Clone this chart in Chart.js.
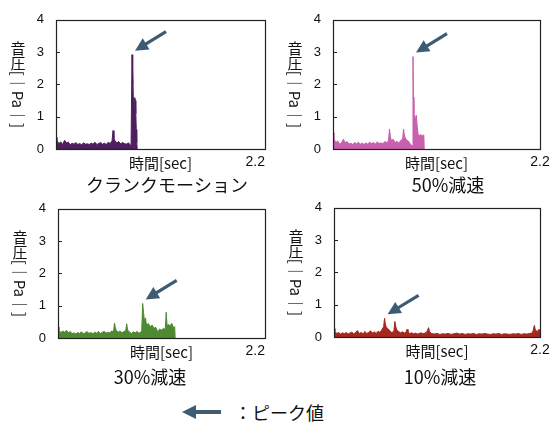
<!DOCTYPE html>
<html>
<head>
<meta charset="utf-8">
<script src="https://cdn.jsdelivr.net/npm/chart.js@4.4.1/dist/chart.umd.min.js"></script>
<style>
  body { margin: 0; background: #fff; }
  #wrap { position: relative; width: 560px; height: 423px; overflow: hidden; background: #fff; }
  #wrap canvas { position: absolute; }
  #key { position: absolute; left: 182px; top: 401px; height: 22px; display: flex; align-items: center;
         font-family: "Noto Sans CJK JP", sans-serif; font-size: 18px; color: #111; }
  #key svg { margin-right: 12px; }
</style>
</head>
<body>
<div id="wrap">
  <canvas id="c1" width="280" height="200"></canvas>
  <canvas id="c2" width="280" height="200"></canvas>
  <canvas id="c3" width="280" height="200"></canvas>
  <canvas id="c4" width="280" height="200"></canvas>
  <div id="key">
    <svg width="40" height="16" viewBox="0 0 40 16">
      <polygon points="0,8 14,1 14,15" fill="#3e5b74"/>
      <rect x="13" y="6" width="26" height="4" fill="#3e5b74"/>
    </svg>
    <span id="keyText"></span>
  </div>
</div>
<script>
// --- data (time [sec], sound pressure [Pa]) ---
var panelTitles = ["クランクモーション", "50%減速", "30%減速", "10%減速"];
var keyLabel = "：ピーク値";
var xTickValues = [0, 1.1, 2.2];
var xTickLabels = ["", "時間[sec]", "2.2"];
var yTitleUpright = ["音", "圧"];
var yTitleRotated = "[｜Pa｜]";

var crankTime = [0, 0.01, 0.03, 0.05, 0.07, 0.09, 0.11, 0.13, 0.15, 0.17, 0.19, 0.21, 0.23, 0.25, 0.27, 0.29,
  0.31, 0.33, 0.35, 0.37, 0.39, 0.41, 0.43, 0.45, 0.47, 0.49, 0.51, 0.53, 0.55, 0.57, 0.59, 0.60, 0.61, 0.62,
  0.64, 0.66, 0.68, 0.70, 0.72, 0.74, 0.76, 0.78, 0.79, 0.80, 0.805, 0.81, 0.815, 0.82, 0.825, 0.83, 0.835,
  0.84, 0.845, 0.85, 0.855];
var crankPa = [0.36, 0.26, 0.17, 0.22, 0.14, 0.27, 0.19, 0.21, 0.13, 0.18, 0.15, 0.2, 0.14, 0.17, 0.13, 0.19,
  0.15, 0.16, 0.14, 0.18, 0.15, 0.21, 0.14, 0.17, 0.2, 0.15, 0.18, 0.14, 0.21, 0.17, 0.25, 0.57, 0.33, 0.26,
  0.19, 0.23, 0.16, 0.2, 0.17, 0.15, 0.19, 0.14, 0.05, 2.92, 2.0, 2.5, 1.4, 1.6, 1.2, 1.58, 1.5,
  1.1, 0.6, 0.2, 0];

var dec50Time = [0, 0.01, 0.03, 0.05, 0.07, 0.09, 0.11, 0.13, 0.15, 0.17, 0.19, 0.21, 0.23, 0.25, 0.27, 0.29,
  0.31, 0.33, 0.35, 0.37, 0.39, 0.41, 0.43, 0.45, 0.47, 0.49, 0.51, 0.53, 0.55, 0.57, 0.59, 0.60, 0.61, 0.62,
  0.64, 0.66, 0.68, 0.70, 0.72, 0.74, 0.75, 0.76, 0.78, 0.80, 0.82, 0.84, 0.85, 0.855, 0.86, 0.865,
  0.875, 0.885, 0.895, 0.905, 0.92, 0.935, 0.95, 0.965, 0.97];
var dec50Pa = [0.5, 0.32, 0.2, 0.25, 0.15, 0.19, 0.3, 0.2, 0.23, 0.15, 0.18, 0.14, 0.2, 0.16, 0.21, 0.15,
  0.18, 0.14, 0.19, 0.15, 0.21, 0.17, 0.2, 0.15, 0.22, 0.17, 0.19, 0.16, 0.23, 0.2, 0.25, 0.62, 0.38, 0.26,
  0.3, 0.2, 0.24, 0.18, 0.26, 0.32, 0.62, 0.4, 0.28, 0.25, 0.16, 0.1, 2.86, 1.6, 1.1, 1.05,
  0.9, 1.05, 0.7, 0.45, 0.42, 0.45, 0.4, 0.44, 0];

var dec30Time = [0, 0.01, 0.03, 0.05, 0.07, 0.09, 0.11, 0.13, 0.15, 0.17, 0.19, 0.21, 0.23, 0.25, 0.27, 0.29,
  0.31, 0.33, 0.35, 0.37, 0.39, 0.41, 0.43, 0.45, 0.47, 0.49, 0.51, 0.53, 0.55, 0.57, 0.59, 0.60, 0.61, 0.62,
  0.64, 0.66, 0.68, 0.70, 0.72, 0.73, 0.74, 0.76, 0.78, 0.80, 0.82, 0.84, 0.86, 0.88, 0.89, 0.90, 0.91, 0.92,
  0.93, 0.94, 0.96, 0.98, 1.00, 1.02, 1.04, 1.06, 1.08, 1.10, 1.12, 1.14, 1.15, 1.16, 1.17, 1.19, 1.21, 1.23,
  1.24, 1.245];
var dec30Pa = [0.34, 0.25, 0.16, 0.22, 0.18, 0.24, 0.16, 0.2, 0.13, 0.16, 0.12, 0.17, 0.14, 0.19, 0.13, 0.16,
  0.2, 0.14, 0.17, 0.13, 0.18, 0.15, 0.2, 0.14, 0.17, 0.21, 0.15, 0.18, 0.16, 0.22, 0.19, 0.46, 0.32, 0.23,
  0.18, 0.22, 0.16, 0.2, 0.23, 0.44, 0.25, 0.18, 0.14, 0.19, 0.16, 0.2, 0.15, 0.18, 0.24, 1.07, 0.75, 0.5,
  0.62, 0.4, 0.45, 0.35, 0.4, 0.3, 0.33, 0.18, 0.28, 0.24, 0.3, 0.26, 0.8, 0.35, 0.42, 0.38, 0.45, 0.3,
  0.35, 0];

var dec10Time = [0, 0.01, 0.03, 0.05, 0.07, 0.09, 0.11, 0.13, 0.15, 0.17, 0.19, 0.21, 0.23, 0.25, 0.27, 0.29,
  0.31, 0.33, 0.35, 0.37, 0.39, 0.41, 0.43, 0.45, 0.47, 0.49, 0.51, 0.53, 0.54, 0.55, 0.56, 0.58, 0.60, 0.62,
  0.64, 0.65, 0.66, 0.67, 0.69, 0.71, 0.73, 0.75, 0.77, 0.78, 0.79, 0.81, 0.83, 0.85, 0.87, 0.89, 0.91, 0.93,
  0.95, 0.97, 0.99, 1.01, 1.02, 1.04, 1.07, 1.10, 1.13, 1.16, 1.19, 1.22, 1.25, 1.28, 1.31, 1.34, 1.37, 1.40,
  1.43, 1.46, 1.49, 1.52, 1.55, 1.58, 1.61, 1.64, 1.67, 1.70, 1.73, 1.76, 1.79, 1.82, 1.85, 1.88, 1.91, 1.94,
  1.97, 2.00, 2.03, 2.06, 2.09, 2.12, 2.14, 2.15, 2.17, 2.19, 2.2];
var dec10Pa = [0.26, 0.17, 0.11, 0.14, 0.09, 0.13, 0.1, 0.14, 0.09, 0.12, 0.15, 0.1, 0.13, 0.2, 0.11, 0.14,
  0.1, 0.17, 0.11, 0.14, 0.19, 0.12, 0.16, 0.11, 0.18, 0.14, 0.22, 0.32, 0.58, 0.37, 0.3, 0.25, 0.18, 0.13,
  0.2, 0.48, 0.32, 0.22, 0.17, 0.13, 0.16, 0.12, 0.15, 0.24, 0.15, 0.11, 0.13, 0.1, 0.12, 0.09, 0.11, 0.13,
  0.1, 0.12, 0.15, 0.29, 0.17, 0.11, 0.09, 0.11, 0.08, 0.1, 0.09, 0.11, 0.08, 0.1, 0.12, 0.09, 0.11, 0.08,
  0.1, 0.09, 0.11, 0.08, 0.1, 0.09, 0.11, 0.09, 0.08, 0.1, 0.09, 0.11, 0.08, 0.1, 0.09, 0.08, 0.1, 0.09,
  0.11, 0.08, 0.1, 0.09, 0.11, 0.13, 0.36, 0.22, 0.17, 0.24, 0.2];

// --- layout / style of each panel (canvas box, plot padding, title centre) ---
var panels = [
  { id: "c1", left: 0,   top: 0,   pad: { left: 12, top: 15, right: 15, bottom: 21 }, titleX: 167, titleY: 185,   align: "inner",  color: "#4d1f5e", time: crankTime, pa: crankPa },
  { id: "c2", left: 280, top: 0,   pad: { left: 9,  top: 14, right: 20, bottom: 21 }, titleX: 168, titleY: 185,   align: "center", color: "#c960ad", time: dec50Time, pa: dec50Pa },
  { id: "c3", left: 0,   top: 189, pad: { left: 14, top: 15, right: 15, bottom: 21 }, titleX: 150, titleY: 188,   align: "inner",  color: "#4e8a31", time: dec30Time, pa: dec30Pa },
  { id: "c4", left: 280, top: 188, pad: { left: 10, top: 15, right: 20, bottom: 21 }, titleX: 160, titleY: 189.5, align: "center", color: "#a5291f", time: dec10Time, pa: dec10Pa }
];

var ARROW = "#3e5b74";
var CJK = '"Noto Sans CJK JP", sans-serif';
var LATIN = '"Liberation Sans", Arial, sans-serif';

document.getElementById("keyText").textContent = keyLabel;

function drawArrow(ctx, tipX, tipY, tailX, tailY) {
  var ang = Math.atan2(tailY - tipY, tailX - tipX);
  var headLen = 13, headHalf = 6.5;
  var bx = tipX + Math.cos(ang) * headLen, by = tipY + Math.sin(ang) * headLen;
  ctx.strokeStyle = ARROW;
  ctx.fillStyle = ARROW;
  ctx.lineWidth = 3.2;
  ctx.beginPath();
  ctx.moveTo(bx - Math.cos(ang), by - Math.sin(ang));
  ctx.lineTo(tailX, tailY);
  ctx.stroke();
  ctx.beginPath();
  ctx.moveTo(tipX, tipY);
  ctx.lineTo(bx - Math.sin(ang) * headHalf, by + Math.cos(ang) * headHalf);
  ctx.lineTo(bx + Math.sin(ang) * headHalf, by - Math.cos(ang) * headHalf);
  ctx.closePath();
  ctx.fill();
}

// frame, inner ticks, vertical y title, panel title and the peak arrow
var panelDecor = {
  id: "panelDecor",
  afterDraw: function (chart, args, opts) {
    var ctx = chart.ctx, a = chart.chartArea, y = chart.scales.y, x = chart.scales.x;
    ctx.save();
    ctx.strokeStyle = "#222";
    ctx.lineWidth = 1;
    y.ticks.forEach(function (t) {
      var py = Math.round(y.getPixelForValue(t.value)) + 0.5;
      ctx.beginPath();
      ctx.moveTo(a.left, py);
      ctx.lineTo(a.left + 4, py);
      ctx.stroke();
    });
    ctx.lineWidth = 1.2;
    ctx.strokeRect(Math.round(a.left) + 0.5, Math.round(a.top) + 0.5,
      Math.round(a.right - a.left), Math.round(a.bottom - a.top));

    // y title: 音圧 upright, bracket part turned like vertical writing
    var fs = 15;
    ctx.font = fs + "px " + CJK;
    ctx.fillStyle = "#111";
    var rw = ctx.measureText(yTitleRotated).width;
    var total = yTitleUpright.length * fs + rw;
    var cx = a.left - 38, y0 = (a.top + a.bottom) / 2 - total / 2;
    ctx.textAlign = "center";
    ctx.textBaseline = "middle";
    yTitleUpright.forEach(function (ch, i) {
      ctx.fillText(ch, cx, y0 + fs * i + fs / 2);
    });
    ctx.save();
    ctx.translate(cx, y0 + yTitleUpright.length * fs);
    ctx.rotate(Math.PI / 2);
    ctx.textAlign = "left";
    ctx.fillText(yTitleRotated, 0, 0);
    ctx.restore();

    // panel title under the axis
    ctx.font = "18px " + CJK;
    ctx.textAlign = "center";
    ctx.fillText(opts.title, opts.titleX, opts.titleY);

    // arrow pointing at the peak value
    var pts = chart.data.datasets[0].data, peak = pts[0];
    pts.forEach(function (p) { if (p.y > peak.y) peak = p; });
    var tipX = x.getPixelForValue(peak.x) + 3, tipY = y.getPixelForValue(peak.y) - 4;
    drawArrow(ctx, tipX, tipY, tipX + 31, tipY - 19);
    ctx.restore();
  }
};

panels.forEach(function (p, k) {
  var canvas = document.getElementById(p.id);
  canvas.style.left = p.left + "px";
  canvas.style.top = p.top + "px";
  new Chart(canvas, {
    type: "line",
    data: {
      datasets: [{
        data: p.time.map(function (t, i) { return { x: t, y: p.pa[i] }; }),
        borderColor: p.color,
        backgroundColor: p.color,
        borderWidth: 1,
        fill: "origin",
        pointRadius: 0,
        tension: 0
      }]
    },
    options: {
      responsive: false,
      animation: false,
      layout: { padding: p.pad },
      plugins: {
        legend: { display: false },
        tooltip: { enabled: false },
        title: { display: false },
        panelDecor: { title: panelTitles[k], titleX: p.titleX, titleY: p.titleY }
      },
      scales: {
        x: {
          type: "linear",
          min: 0,
          max: 2.2,
          grid: { display: false, drawTicks: false },
          border: { display: false },
          afterBuildTicks: function (s) {
            s.ticks = xTickValues.map(function (v) { return { value: v }; });
          },
          afterFit: function (s) { s.height = 30; },
          ticks: {
            autoSkip: false,
            maxRotation: 0,
            padding: 5,
            align: p.align,
            color: "#111",
            font: function (c) {
              return c.index === 1 ? { family: CJK, size: 15 } : { family: LATIN, size: 14 };
            },
            callback: function (v, i) { return xTickLabels[i]; }
          }
        },
        y: {
          min: 0,
          max: 4,
          grid: { display: false, drawTicks: false },
          border: { display: false },
          afterFit: function (s) { s.width = 44; },
          ticks: {
            stepSize: 1,
            padding: 12,
            color: "#111",
            font: { family: LATIN, size: 13 }
          }
        }
      }
    },
    plugins: [panelDecor]
  });
});
</script>
</body>
</html>
